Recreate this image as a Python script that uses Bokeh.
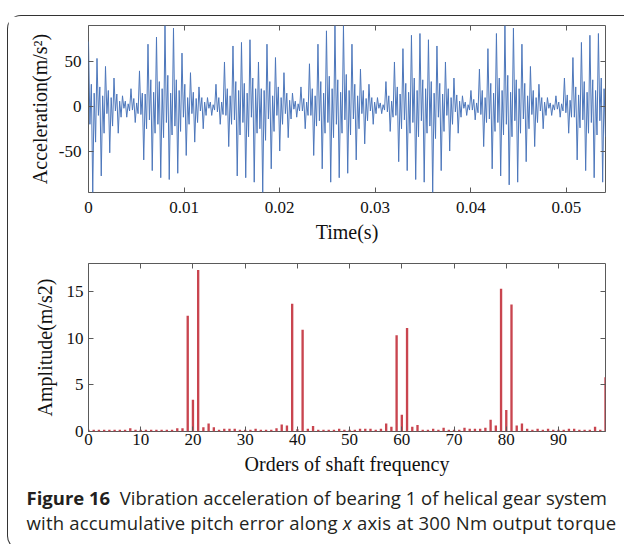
from bokeh.plotting import figure
from bokeh.models import FixedTicker, LinearAxis, Range1d, Div
from bokeh.layouts import column
from bokeh.embed import file_html
from bokeh.resources import INLINE
import numpy as np

# ---------------- data ----------------
# acceleration samples of bearing 1 (m/s^2), evenly sampled over 0 .. 0.0541 s
accel = [
    73, -20, 25, -96.6, 15, -40,   54, -10, 22, -78, 12, -30,   45, -8, 18, -52, 10, -22,
    32, -5, 14, -30, 6, -12,       12, -2, 6, -12, 3, -5,       20, -4, 9, -18, 4, -8,
    40, -9, 15, -60, 14, -25,      70, -15, 30, -72, 16, -30,   78, -20, 28, -80, 20, -35,
    91, -18, 35, -82, 15, -32,     88, -22, 30, -75, 18, -28,   60, -12, 25, -55, 10, -20,
    38, -8, 16, -40, 9, -18,       22, -5, 10, -25, 5, -10,     10, -2, 5, -10, 2, -4,
    25, -6, 10, -20, 5, -9,        50, -10, 20, -45, 12, -20,   68, -15, 28, -78, 18, -32,
    72, -18, 26, -80, 15, -34,     75, -12, 32, -85, 20, -30,   50, -25, 20, -96.6, 18, -38,
    70, -14, 28, -70, 12, -28,     55, -10, 22, -50, 10, -20,   38, -8, 15, -35, 7, -14,
    15, -3, 6, -12, 3, -5,         22, -5, 9, -25, 5, -10,      48, -10, 20, -55, 12, -22,
    70, -16, 28, -70, 15, -30,     85, -18, 34, -85, 20, -35,   91, -20, 30, -80, 16, -30,
    91, -15, 36, -75, 18, -32,     70, -14, 25, -60, 12, -25,   42, -8, 18, -42, 9, -16,
    25, -5, 10, -20, 5, -8,        10, -2, 4, -8, 2, -4,        28, -6, 12, -28, 6, -12,
    50, -10, 22, -62, 14, -25,     65, -15, 26, -72, 16, -30,   80, -18, 32, -82, 18, -34,
    82, -16, 30, -85, 20, -30,     75, -22, 28, -96.6, 15, -36, 68, -12, 26, -72, 14, -28,
    50, -10, 20, -50, 10, -20,     32, -6, 13, -30, 6, -12,     12, -2, 5, -10, 2, -4,
    18, -4, 8, -15, 4, -7,         42, -9, 18, -45, 10, -18,    65, -14, 26, -70, 15, -28,
    82, -18, 32, -78, 18, -32,     91, -20, 35, -88, 16, -34,   88, -16, 30, -85, 20, -30,
    70, -14, 26, -62, 12, -25,     45, -9, 18, -45, 10, -18,    25, -5, 10, -25, 5, -10,
    10, -2, 4, -10, 2, -4,         12, -3, 5, -12, 3, -5,       32, -7, 13, -30, 7, -12,
    55, -12, 22, -60, 13, -24,     72, -15, 28, -72, 16, -30,   80, -18, 30, -80, 18, -32,
    82, -16, 32, -85, 20, -34,
]
t_end = 0.0541
time = np.linspace(0, t_end, len(accel))

# order spectrum: orders 0..99, amplitude (m/s2)
orders = list(range(100))
amplitude = [
    0.2, 0.2, 0.2, 0.2, 0.2, 0.2, 0.2, 0.2, 0.35, 0.2,
    0.2, 0.2, 0.2, 0.2, 0.2, 0.2, 0.2, 0.35, 0.35, 12.4,
    3.4, 17.3, 0.45, 0.85, 0.45, 0.2, 0.3, 0.3, 0.3, 0.2,
    0.2, 0.2, 0.3, 0.2, 0.2, 0.2, 0.35, 0.75, 0.65, 13.7,
    0.25, 10.9, 0.3, 0.6, 0.2, 0.2, 0.2, 0.2, 0.3, 0.2,
    0.2, 0.2, 0.3, 0.3, 0.3, 0.2, 0.3, 0.85, 0.5, 10.3,
    1.8, 11.1, 0.5, 0.7, 0.2, 0.2, 0.3, 0.2, 0.4, 0.2,
    0.2, 0.2, 0.4, 0.3, 0.3, 0.3, 0.4, 1.25, 0.65, 15.3,
    2.3, 13.6, 0.65, 0.85, 0.3, 0.2, 0.3, 0.2, 0.3, 0.2,
    0.2, 0.2, 0.3, 0.3, 0.2, 0.2, 0.2, 0.5, 0.2, 5.8,
]

t_ticks = [0, 0.01, 0.02, 0.03, 0.04, 0.05]
t_tick_labels = ["0", "0.01", "0.02", "0.03", "0.04", "0.05"]
acc_ticks = [-50, 0, 50]
acc_tick_labels = ["-50", "0", "50"]
ord_ticks = [0, 10, 20, 30, 40, 50, 60, 70, 80, 90]
ord_tick_labels = ["0", "10", "20", "30", "40", "50", "60", "70", "80", "90"]
amp_ticks = [0, 5, 10, 15]
amp_tick_labels = ["0", "5", "10", "15"]

caption_bold = "Figure 16"
caption_1 = "Vibration acceleration of bearing 1 of helical gear system"
caption_2a = "with accumulative pitch error along"
caption_2b = "x"
caption_2c = "axis at 300 Nm output torque"

# ---------------- styling ----------------
SERIF = "Liberation Serif"
FRAME = "#5a5a5a"
LINE_BLUE = "#4D77BB"
BAR_RED = "#C9454F"


def style_axes(p, xt, xl, yt, yl, xlabel, ylabel, xls, xals, yls, yals):
    p.xgrid.visible = False
    p.ygrid.visible = False
    p.outline_line_color = FRAME
    p.outline_line_width = 1
    p.background_fill_color = "white"
    p.border_fill_color = "white"
    for ax in p.xaxis:
        ax.ticker = FixedTicker(ticks=xt)
        ax.major_label_overrides = dict(zip(xt, xl))
        ax.axis_label = xlabel
        ax.major_label_standoff = xls
        ax.axis_label_standoff = xals
    for ax in p.yaxis:
        ax.ticker = FixedTicker(ticks=yt)
        ax.major_label_overrides = dict(zip(yt, yl))
        ax.axis_label = ylabel
        ax.major_label_standoff = yls
        ax.axis_label_standoff = yals
    for ax in list(p.xaxis) + list(p.yaxis):
        ax.axis_line_color = None
        ax.major_tick_in = 5
        ax.major_tick_out = 0
        ax.major_tick_line_color = FRAME
        ax.minor_tick_line_color = None
        ax.major_label_text_font = SERIF
        ax.major_label_text_font_size = "17px"
        ax.major_label_text_color = "#111111"
        ax.axis_label_text_font = SERIF
        ax.axis_label_text_font_size = "20px"
        ax.axis_label_text_font_style = "normal"
        ax.axis_label_text_color = "#111111"
    # mirrored inward ticks on top and right (box on), without labels
    top = LinearAxis(ticker=FixedTicker(ticks=xt))
    right = LinearAxis(ticker=FixedTicker(ticks=yt))
    for ax, ticks in ((top, xt), (right, yt)):
        ax.axis_line_color = None
        ax.major_tick_in = 5
        ax.major_tick_out = 0
        ax.major_tick_line_color = FRAME
        ax.minor_tick_line_color = None
        ax.major_label_overrides = {tk: "" for tk in ticks}
        ax.major_label_standoff = 0
    p.add_layout(top, "above")
    p.add_layout(right, "right")


# ---------------- top: time waveform ----------------
p1 = figure(
    frame_width=517, frame_height=167,
    min_border_left=80, min_border_right=18, min_border_top=9, min_border_bottom=56,
    x_range=Range1d(0, t_end), y_range=Range1d(-96.6, 91),
    output_backend="svg", toolbar_location=None,
)
p1.line(time, accel, line_color=LINE_BLUE, line_width=1.0)
style_axes(p1, t_ticks, t_tick_labels, acc_ticks, acc_tick_labels,
           "Time(s)", "Acceleration(m/s²)", 9, 5, 7, 5)

# ---------------- bottom: order spectrum ----------------
p2 = figure(
    frame_width=517, frame_height=168,
    min_border_left=80, min_border_right=18, min_border_top=15, min_border_bottom=47,
    x_range=Range1d(0, 99), y_range=Range1d(0, 18),
    output_backend="svg", toolbar_location=None,
)
p2.vbar(x=orders, top=amplitude, width=0.45, fill_color=BAR_RED, line_color=None)
style_axes(p2, ord_ticks, ord_tick_labels, amp_ticks, amp_tick_labels,
           "Orders of shaft frequency", "Amplitude(m/s2)", 2, 5, 5, 8)

# ---------------- caption ----------------
caption_html = (
    '<div style="font-family:\'Open Sans\'; font-size:18.5px; line-height:25px; '
    'color:#231f20; padding:2px 0 0 13.5px; white-space:nowrap;">'
    f'<b>{caption_bold}</b>&nbsp;&nbsp;{caption_1}<br>'
    f'<span style="letter-spacing:0.2px;">{caption_2a} <i>{caption_2b}</i> {caption_2c}</span></div>'
)
caption = Div(text=caption_html, width=615, height=61)

layout = column(
    p1, p2, caption,
    styles={
        "border": "1.5px solid #333333",
        "border-right": "none",
        "border-radius": "14px 0 0 14px",
        "margin-left": "7px",
        "margin-top": "15px",
        "background": "white",
    },
)

open("out.html", "w").write(file_html(layout, INLINE))
